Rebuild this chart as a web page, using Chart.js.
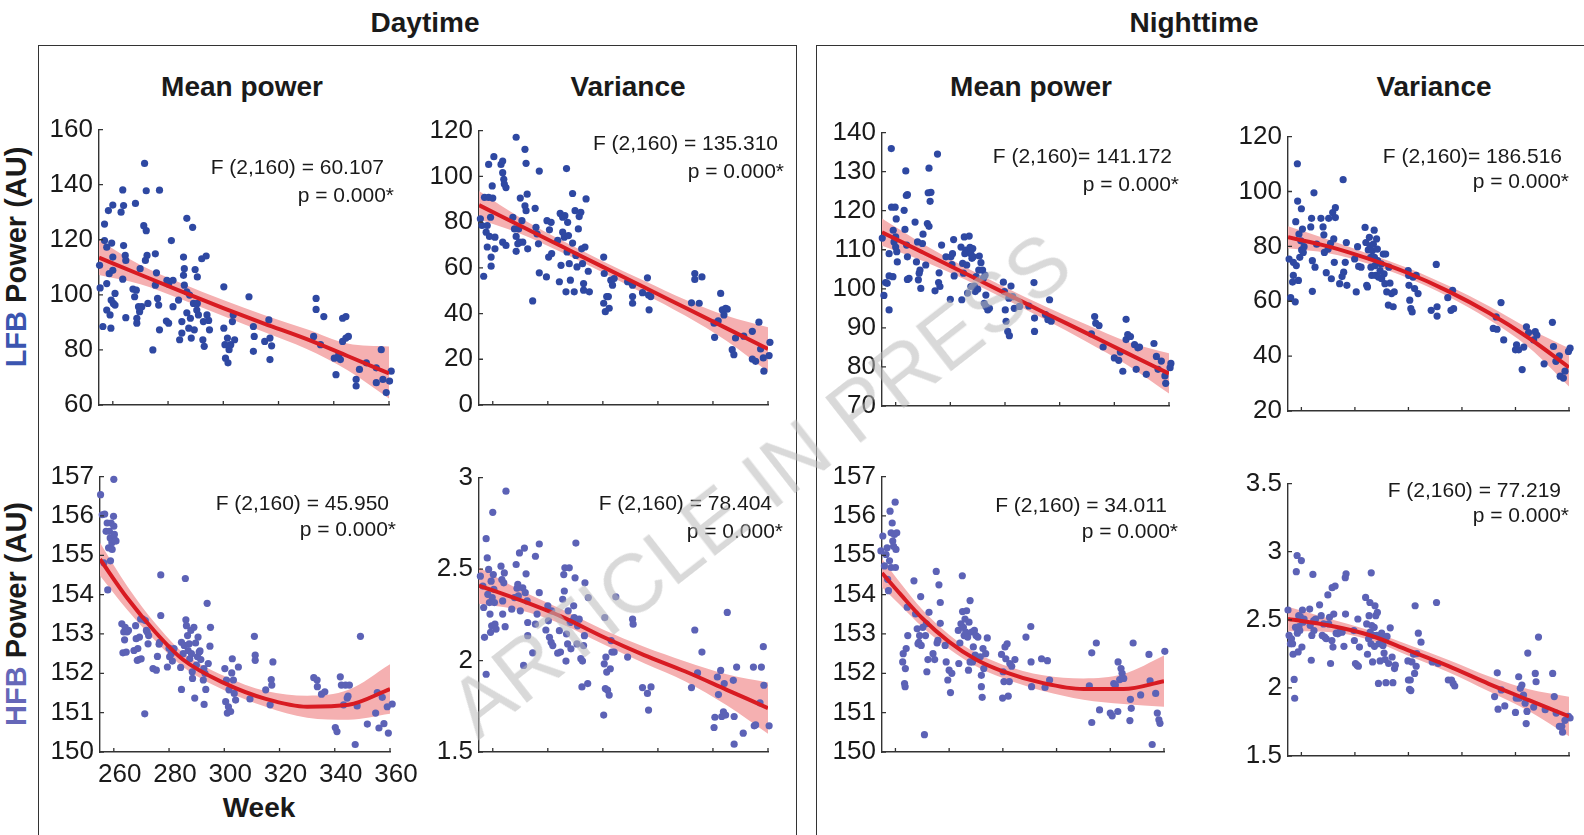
<!DOCTYPE html>
<html>
<head>
<meta charset="utf-8">
<script src="https://cdn.jsdelivr.net/npm/chart.js@4.4.0/dist/chart.umd.min.js"></script>
<style>
  body { margin: 0; background: #fff; width: 1584px; height: 835px; overflow: hidden; position: relative;
         font-family: 'Liberation Sans', Arial, Helvetica, sans-serif; color: #1a1a1a; }
  .frame { position: absolute; border: 1.5px solid #333; }
  .title { position: absolute; font-weight: bold; font-size: 28px; white-space: nowrap; transform: translate(-50%, -50%); }
  .ylab { position: absolute; font-weight: bold; font-size: 29px; white-space: nowrap; transform: translate(-50%, -50%) rotate(-90deg); }
  .stat { position: absolute; font-size: 21px; white-space: nowrap; transform: translateY(-50%); }
  #wm { position: absolute; left: 760px; top: 485px; transform: translate(-50%, -50%) rotate(-38deg);
        font-size: 83px; color: rgba(185, 185, 185, 0.55); white-space: nowrap; pointer-events: none; z-index: 10; }
</style>
</head>
<body>
<div class="frame" style="left:38px;top:45px;width:757px;height:900px"></div>
<div class="frame" style="left:816px;top:45px;width:900px;height:900px"></div>

<div class="title" style="left:425px;top:23px">Daytime</div>
<div class="title" style="left:1194px;top:23px">Nighttime</div>
<div class="title" style="left:242px;top:87px">Mean power</div>
<div class="title" style="left:628px;top:87px">Variance</div>
<div class="title" style="left:1031px;top:87px">Mean power</div>
<div class="title" style="left:1434px;top:87px">Variance</div>
<div class="title" style="left:259px;top:808px">Week</div>

<div class="ylab" style="left:16px;top:257px"><span style="color:#3b55b0">LFB</span> Power (AU)</div>
<div class="ylab" style="left:16px;top:614px"><span style="color:#6567b8">HFB</span> Power (AU)</div>

<div id="wm">ARTICLE IN PRESS</div>

<script>
Chart.defaults.font.family = "'Liberation Sans', Arial, Helvetica, sans-serif";
Chart.defaults.color = '#1a1a1a';

// x axis (weeks)
const xMin = 255;
const xMax = 360;
const xTicks = [260, 280, 300, 320, 340, 360];

// y tick values per panel
const yTicksLfbDayMean = [60, 80, 100, 120, 140, 160];
const yTicksLfbDayVar = [0, 20, 40, 60, 80, 100, 120];
const yTicksLfbNightMean = [70, 80, 90, 100, 110, 120, 130, 140];
const yTicksLfbNightVar = [20, 40, 60, 80, 100, 120];
const yTicksHfbMean = [150, 151, 152, 153, 154, 155, 156, 157];
const yTicksHfbDayVar = [1.5, 2, 2.5, 3];
const yTicksHfbNightVar = [1.5, 2, 2.5, 3, 3.5];

// scatter points: [week, value]
const lfbDayMean = [
  [255.2,110.7],[255.4,102.5],[256.4,88.5],[257,125.7],[257,119.7],[257.8,117.3],[257.8,104.1],[257.8,94.5],[258.4,130.6],[258.7,107.7],
  [259,92.7],[259.3,87.9],[259.6,118.8],[260,132.6],[260,113.7],[260,108.9],[260.2,96.9],[260.8,100.5],[260.8,96.3],[259.4,98.1],
  [263,130],[263.6,138.1],[263.9,132.4],[263.9,117.9],[264.5,114.3],[264.7,112.5],[263.6,105.7],[264.7,91.7],
  [267.3,102.1],[267.9,99.3],[268.5,101.7],[268.2,133.2],[268.7,91.5],[268.7,89.7],[269.3,95.7],[269.7,93.9],[269.9,109.5],[270.5,95.7],
  [271.5,147.7],[271.2,125.1],[272.1,137.8],[272.1,123.3],[272.4,114.3],[271.8,112.5],[272.7,96.9],[274.5,80],[275.4,114.9],[275.8,108],
  [275.4,103.5],[276.2,98.7],[276.6,96.3],[276.9,87.3],[276.9,138],
  [279.4,90.5],[280.2,89.7],[279.6,105.3],[280.2,103.9],[281.2,119.7],[281.8,105.3],[281.8,95.7],
  [283.8,98.1],[284.2,83.7],[285,86.1],[285,90.3],[285.6,113.7],[285.6,107.1],[285.9,103.5],[285.9,109.5],[286.8,127.8],[286.8,101.1],
  [286.8,93.5],[287.5,87.9],[287.8,99.9],[288.1,91.5],[288.4,84.3],[288.9,124.5],[289.2,96.9],[289.5,87.3],[289.8,109.2],[290.4,94.5],
  [290.6,106.5],[290.6,96.9],[291,92.7],[292.2,113.1],[292.6,83.7],[292.8,90.3],[293.1,81.3],[293.8,114.1],[294.1,92.7],[294.7,90.7],[295,87.3],
  [300.2,102.9],[300.2,87.9],[300.6,81.9],[300.8,77],[301.5,84.3],[301.7,75.3],[302.1,80.1],[302.7,81.9],[303.3,90.3],[303.6,92.7],[304.1,83.7],
  [309.3,99.3],[310.9,88.5],[311.2,84.9],[310.9,79.5],[315,83.1],[316.5,90.9],[316.9,84.3],[316.9,76.5],[317.5,81.5],
  [332.7,84.9],[333.6,98.7],[333.6,94.7],[335.2,81.9],[336.4,92.1],[340.2,77],[340.8,71],[341.8,78.2],[342.4,76.5],[343.2,91.5],
  [344.4,92.1],[343.2,83.1],[344.4,84.3],[345.3,84.9],
  [348.1,69.3],[348.1,66.9],[349.3,72.9],[351.8,75.3],[355.4,73.5],[355.4,68.1],[357.2,80.1],[357.8,69.3],[359,64.5],[360.2,68.7],[360.8,72.3]
];

const lfbDayVar = [
  [255.5,81.4],[256.1,78.5],[256.7,56.3],[257,90.8],[257.6,75.6],[258,69.1],[258,78.5],[258.5,90.8],[258.5,105.2],[258.8,73.7],
  [259.2,82.1],[259.4,64.7],[259.4,60.7],[259.8,95.8],[260,90.5],[260.4,108.6],[260.8,68.3],[260.8,73.4],
  [263,105.2],[263.6,106.7],[263.6,101.6],[264,98.7],[264.2,96.6],[264.8,95.1],[263.6,71.2],[264.8,69.8],
  [267.3,82.1],[267.9,77],[268.5,117.1],[268.5,67.2],[268.5,73.7],[269.1,70.5],[269.4,77],[269.7,71.2],[270,90.5],[270.6,80.6],[270.9,71.2],
  [271.7,111.8],[272.1,105.7],[271.7,87.1],[272.1,85],[272.5,92.2],[272.7,68.3],[274.5,45.5],[275.4,86],[275.7,77.7],[276.1,74.8],
  [276.6,70.5],[276.9,102.3],[276.9,57.8],
  [279.5,56],[279.7,80.6],[280.3,64.7],[280.6,76.6],[281.2,79.9],[281.4,66.2],
  [283.6,72],[284.2,53.9],[284.5,83.8],[284.8,61.1],[285.4,82.1],[285.4,75.6],[286,73.4],[286.2,82.8],[286.6,49.5],[286.8,103.4],
  [287,66.9],[287.2,79.9],[287.5,74.1],[287.8,61.8],[288.2,54.6],[289,92.5],[289,70.8],[289.6,49.5],[289.9,85],[290.2,65.4],
  [290.6,60.4],[291.1,77],[291.4,82.4],[292,84.3],[292.3,68.3],[292.6,61.8],[293,53.1],[293,50.2],[293.5,69.1],[293.9,90.1],
  [294.7,58.5],[295.1,49.5],
  [300.3,64.7],[300.5,57.5],[300.3,44.5],[300.9,40.8],[301.4,47.4],[302,47.4],[302.3,42.3],[302.9,54.6],[303.5,52.4],[304.1,55.3],
  [309,53.9],[310.8,52.4],[310.8,47.4],[310.8,44.5],[314.4,49.1],[316.2,55.6],[316.6,48.1],[316.8,41.6],[317.4,47.4],
  [332.2,44.7],[333.4,57.5],[333.4,54.9],[335,44.5],[336,56],[340.4,35.8],[340.6,29.6],[341.9,36.8],[342.8,48.8],[343.4,41.6],
  [344,39.4],[344.6,42.3],[345.2,41.9],[347,24.2],[347.6,22],[348.2,29.3],
  [351.2,30.1],[354.3,32.2],[354.3,20.1],[355.5,19.1],[356.7,36.2],[357.3,24.5],[358.3,20.6],[358.5,14.8],[360.4,21.6],[360.7,27.4]
];

const lfbNightMean = [
  [255.7,98.3],[255.1,113],[256.3,101.6],[256.9,101.4],[257.6,94.6],[257.6,103.3],[257.6,109],[258.4,135.9],[258.5,120.9],[259,103.1],
  [259.1,115],[259.4,112],[259.8,120.9],[260,110.7],[260,113.3],[260.2,117.9],[260.4,109.5],[260.6,106.9],
  [263.1,120.1],[263.4,115.2],[263.7,130.2],[263.9,123.9],[264.3,124.1],[264,111.2],[264.3,108.2],[264.3,102.4],[264.9,102.7],
  [267.1,117.1],[267.6,106.9],[268,112],[268.3,102.3],[268.6,104],[268.9,104.8],[269.2,100.1],[269.8,111.6],[270,114],
  [271,106.1],[271.6,116.7],[271.9,124.6],[272.2,130.9],[272.2,116],[272.6,122.4],[272.9,124.7],
  [274.4,99.5],[275.3,134.5],[275.7,101.6],[275.9,104.1],[276.2,100.6],[276.8,111.2],[278.4,108.2],
  [280,97.3],[280.2,108.2],[280.6,106.2],[280.8,109],[281.2,112.6],[281.4,103.3],
  [283.9,110.7],[284.2,97.2],[284.5,106.5],[284.8,104],[285.1,113.3],[285.3,109],[285.7,109.9],[286,106.1],[286.3,98.9],[286.9,113.5],
  [287.2,110.6],[287.5,109],[287.5,100.6],[287.9,107.8],[288.2,110.3],[288.4,108.2],[288.8,100.7],[289.1,99.3],[289.4,103.1],[290,99.9],
  [290.4,104.8],[290.6,108.4],[291.2,106.7],[291.8,104.8],[292.1,102.7],[292.4,96.3],[292.7,103.5],[293,98.4],[293,95.5],[293.7,94.6],[294.3,95],
  [299.4,101.7],[299.8,99.3],[300.1,94.6],[300.4,91.7],[301,89.1],[301.4,97.6],[301.6,88],[302.2,100.7],[302.8,98],[303.4,95],[305.3,95.5],
  [308.7,95.6],[310.6,101.6],[310.8,92.5],[310.8,89.1],[314.8,93.4],[315.7,92.1],[316.3,97.2],[316.9,91.7],
  [331.6,88.5],[332.8,92.9],[333.2,91.2],[334.4,90.6],[335.9,85.1],[340,82.3],[341.6,81.7],[342.2,83.8],[343.1,78.9],[344.3,92.2],
  [344.3,87],[344.9,88.3],[345.9,87.8],[347.4,85.7],[348,79.4],[348.6,84.9],[349.2,85.1],
  [351.7,78.1],[354.5,86],[355.4,82.7],[356,79.4],[357.2,81.5],[358.5,77.7],[358.8,75.8],[360.4,79.8],[360.7,80.9]
];

const lfbNightVar = [
  [255.4,75.4],[256,61.3],[256.7,67],[257,74.2],[257,69.4],[257.7,59.8],[257.9,89],[258.1,73],[258.5,110.1],[258.6,96.5],
  [258.9,67.6],[259.1,84.5],[259.4,76],[259.8,82],[260,93.7],[260.1,78.7],[260.4,86.3],[260.7,77.8],[261,79.9],
  [263.5,87.1],[263.8,90.2],[264.1,74.8],[264.1,63.6],[264.7,99.5],[265.1,72.4],[265.7,80.8],
  [267.3,90.2],[268.1,87.1],[268.4,84.2],[268.6,77.8],[269.3,70.4],[270,79],[270.2,90.2],[270.9,81.1],[271.2,68.2],[271.7,92.3],
  [272.1,82.7],[272.3,74.2],[272.7,94.1],[272.7,90.5],[274.3,66.4],[275.2,69],[275.6,104.3],[275.8,70.6],[276.4,74.2],[276.8,81.4],[277,65.8],
  [279.9,75.4],[280.5,63.4],[281,79.9],[281.4,72.7],[282.3,72.4],
  [283.8,86.9],[284.1,81.4],[284.4,65.8],[284.7,65.2],[285,78.7],[285.4,83.3],[285.7,80.2],[285.9,76],[286,72.4],[286.3,69.4],
  [286.5,78.4],[286.9,80.8],[287.2,85.9],[287.3,76],[287.5,73],[287.8,69.4],[288.1,82.7],[288.4,79],[288.5,74.8],[288.8,68.8],
  [289.4,71.2],[289.8,73.6],[290,68.2],[290.6,77.2],[290.9,70],[291.2,66.4],[291.5,77.2],[291.9,63.4],[292.5,58.6],[292.7,72.4],
  [293.1,66.6],[293.7,62.8],[294.3,58],[294.7,63.4],
  [299.9,71.2],[300.1,69.4],[300.2,65.8],[300.5,60.4],[300.9,57.3],[301.4,56.1],[301.7,68.8],[302.3,64.6],[302.9,69.4],[303.6,62.8],
  [308.5,56.7],[310.4,73.4],[310.7,58],[310.7,54.6],[314.7,61.3],[315.9,56.7],[316.5,64],[316.9,57.3],
  [331.7,50.1],[332.8,54.3],[333.1,49.8],[334.6,59.5],[335.6,45.9],[340,42.3],[340.4,44.1],[341.2,42.3],[342.5,35.1],[343.1,43.3],
  [344.1,50.7],[344.9,48.6],[346.8,45.9],[347.4,48.9],[348,47.7],
  [350.7,37.2],[353.8,52.3],[354.2,43.5],[355.1,38.1],[356.4,40.1],[356.7,32.7],[357.9,32],[358.5,34.5],[359.8,41.7],[360.4,42.9]
];

const hfbDayMean = [
  [255.2,156.54],[255.8,156.03],[256.4,154.81],[256.7,156.05],[257.2,155.61],[257.6,155.82],[257.8,154.12],[258.1,155.19],[258.4,155.61],[258.7,155.44],
  [258.8,154.86],[259,155.82],[259.3,155.32],[259.4,155.15],[259.6,155.4],[259.9,155.99],[260,156.93],[260,155.74],[260.2,155.53],[260.5,155.38],[260.8,155.36],
  [262.9,153.26],[263.3,152.52],[263.6,153.05],[263.9,152.85],[264.1,153.17],[264.5,152.54],[264.8,153.05],[265.3,153.09],
  [267.3,152.58],[267.9,153.21],[268.1,152.88],[268.5,152.33],[268.7,152.63],[269.1,152.35],[269.3,152.92],[269.7,153.38],[269.9,152.37],
  [270.5,153.38],[271.2,150.97],[271.4,153.34],[271.8,153.09],[272.1,153.05],[272.4,152.75],[272.6,152.96],
  [274.2,152.12],[275.4,152.08],[275.8,152.43],[276.4,152.74],[276.6,152.79],[277,154.5],[277,153.47],
  [279.4,152.16],[280,152.64],[280.2,152.42],[280.8,152.5],[281.2,152.31],[281.8,152.63],
  [284.2,152.15],[284.5,151.59],[284.5,152.79],[285.1,152.5],[285.5,152.71],[285.9,154.41],[286.1,153.36],[286.3,153.21],[286.7,152.96],
  [286.9,152.58],[287.3,152.75],[287.5,152.37],[287.9,153.09],[288.1,152.5],[288.4,152.04],[288.5,151.87],[289,153.17],[289.3,151.37],
  [289.6,152.77],[289.9,152.21],[290.3,152.42],[290.5,152.92],[290.9,152.54],[291.2,152.57],[291.5,152.35],[292.4,151.83],[292.6,152.12],
  [292.7,151.21],[293,152],[293.3,151.59],[293.8,153.78],[294.2,152.25],[294.8,152.69],[295,153.17],
  [300.2,152.12],[300.5,151.28],[300.8,151.83],[301.1,150.99],[301.5,151.15],[301.7,151.58],[302.3,151.03],[302.7,152.01],[302.9,152.37],
  [303.3,151.83],[303.6,151.49],[304.1,151.32],[305.1,152.16],
  [309.3,151.35],[310.9,152.94],[311.2,152.46],[311.2,152.33],[315,151.58],[316.6,151.2],[317,151.84],[317.2,151.7],[317.6,152.29],
  [332.4,151.89],[333.6,151.83],[333.7,151.66],[335.2,151.47],[336.4,151.53],[340.2,150.62],[340.8,150.52],[342,151.91],[342.4,151.7],
  [343.2,151.2],[343.9,151.7],[344.5,151.37],[344.8,151.42],[345.3,151.7],[347.4,150.19],[348.1,151.17],[349.3,152.94],
  [351.8,150.71],[354.8,150.99],[355.4,151.51],[356,150.61],[357.2,151.39],[357.8,150.72],[359,151.15],[359.4,150.48],[360.8,151.22]
];

const hfbDayVar = [
  [255.5,2.461],[256.4,2.407],[256.7,2.29],[257,2.127],[257.6,2.666],[257.6,1.925],[258,2.561],[258.2,2.362],[258.5,2.498],[258.8,2.317],
  [259,2.254],[259.2,2.154],[259.4,2.434],[259.6,2.19],[259.8,2.344],[260,2.81],[260.2,2.47],[260.4,2.389],[260.6,2.317],[260.8,2.199],[261.2,2.172],
  [263,2.516],[263.3,2.443],[263.6,2.326],[263.6,2.254],[264,2.425],[264.2,2.479],[264.5,2.185],[264.8,2.926],
  [266.9,2.281],[267.9,2.344],[268.5,2.525],[268.8,2.395],[269.1,2.416],[269.3,2.353],[269.7,2.588],[270,2.272],[270.9,2.398],[271.2,1.973],
  [271.5,2.615],[271.8,2.371],[272.1,2.474],[272.5,2.326],[272.7,2.208],[272.7,2.136],[274.5,2.042],[275.5,2.57],[275.5,2.199],[276.1,2.254],
  [276.9,2.371],[276.9,2.637],
  [279.3,2.167],[280,2.299],[280.2,2.217],[280.6,2.127],[281.2,2.1],[281.4,2.272],[281.8,2.082],
  [283.6,2.04],[284.2,2.163],[284.6,2.046],[285.4,2.335],[285.8,2.47],[286,2.38],[286.2,2.507],[286.6,1.997],[286.8,2.145],[287.2,2.091],
  [287.4,2.272],[287.8,2.507],[288.1,2.208],[288.4,2.064],[289,2.217],[289.4,2.299],[289.6,2.235],[289.9,2.452],[290.2,2.642],[290.6,2.091],
  [290.8,2.19],[291.4,2.226],[292,2.01],[292.4,1.856],[292.6,1.997],[293,2.082],[293.3,2.136],[293.5,2.425],[294.5,1.874],[294.7,2.344],
  [300.3,1.702],[300.5,1.982],[300.7,2.235],[300.9,1.847],[301.1,2.019],[301.4,1.937],[301.7,1.838],[302.3,1.811],[302.7,1.955],[303,2.109],
  [303.3,2.046],[304.1,2.046],[304.7,2.348],
  [309,2.019],[310.8,2.226],[311,2.199],[314.4,1.852],[316.2,1.82],[316.6,1.729],[317.5,1.856],
  [332.2,1.852],[333.4,2.167],[334.4,1.932],[336,2.046],[340.4,1.634],[340.7,1.69],[341.6,1.91],[342,1.814],[342.8,1.946],[343.2,1.694],
  [343.8,1.72],[344.1,1.874],[344.6,1.702],[345.2,2.263],[347.4,1.892],[347.7,1.694],[347.7,1.543],[348.6,1.964],
  [351,1.603],[354.7,1.964],[355,1.643],[355.5,1.648],[357.1,1.769],[357.6,1.964],[358.3,2.076],[358.5,1.865],[360.4,1.643]
];

const hfbNightMean = [
  [254.6,155.11],[255.3,155.49],[255.9,154.73],[256.5,155.02],[256.9,155.19],[257.1,154.39],[257.4,154.1],[257.8,154.86],[258,156.12],[258.4,154.69],
  [258.4,155.57],[258.8,155.82],[259,155.36],[259.3,155.23],[259.6,155.53],[259.9,156.35],[260,154.69],[260.2,155.15],[260.5,155.57],
  [262.7,152.29],[262.9,152.5],[263.4,151.74],[263.6,151.66],[263.7,152.12],[264,152.63],[264.4,153.68],[264.6,152.96],
  [266.9,154.35],[267.5,153.51],[268.1,153.13],[268.4,152.75],[268.7,152.79],[269,152.96],[269.4,153.95],[269.6,152.71],[270.2,153.17],
  [270.8,150.44],[271.2,152.96],[271.5,153.26],[271.7,152.04],[272.1,152.35],[272.5,153.55],
  [274,152.5],[274.6,152.35],[275.2,154.59],[275.5,152.77],[275.8,152.84],[276.2,154.25],[276.7,153.8],[276.7,153.27],
  [278.5,152.71],[278.9,152.29],[279.5,151.83],[280,152.08],[280.5,151.51],[281,152],
  [283.4,153.09],[283.6,152.25],[284,152.77],[284.4,153.26],[284.9,154.48],[285,153.57],[285.3,153.17],[285.6,152.96],[285.9,153.38],
  [286.2,153.05],[286.5,153.59],[286.9,152.92],[287.2,152.08],[287.4,153.3],[287.8,153.85],[287.8,152.29],[288.4,153.05],[288.7,152.29],
  [289,152.67],[289.4,153.09],[289.7,152.46],[290,152.96],[290.7,152.92],[291.6,152.42],[292,151.95],[292,151.66],[292.3,151.39],
  [292.6,152.63],[292.9,152.12],[293.6,152.5],[294.2,152.9],
  [299.5,152.48],[299.9,151.37],[300.1,152.04],[300.4,151.79],[300.8,152.67],[301.1,152.37],[301.6,152.75],[302,151.42],[302.4,151.79],
  [302.6,152.25],[303.3,152.18],[304.5,152.35],
  [308.6,152.92],[310.4,153.19],[310.5,152.29],[310.7,151.66],[314.4,152.37],[315.7,151.64],[316.6,152.32],[317.4,151.83],
  [332.2,151.68],[333.1,152.52],[333.1,150.75],[334.8,152.77],[336,151.07],[340,150.99],[340.7,150.92],[341.3,151.74],[341.9,151.7],
  [342.8,151.03],[342.9,152.29],[343.5,151.84],[344,152.12],[344.4,152],[345,151.87],[347.3,150.8],[347.5,151.34],[347.8,151.11],[348.5,152.77],
  [351.3,151.45],[354.4,152.48],[354.8,151.81],[355.6,150.19],[356.9,151.49],[357.5,150.99],[358.1,150.82],[358.5,150.73],[360.3,152.56],[360.6,152.32]
];

const hfbNightVar = [
  [255,2.572],[255.4,2.385],[255.9,2.324],[256.3,2.361],[256.7,2.324],[256.9,2.247],[257.3,2.062],[257.5,1.924],[257.8,2.445],[258.1,2.853],
  [258.4,2.972],[258.5,2.402],[258.8,2.264],[259,2.53],[259.1,2.45],[259.4,2.421],[259.6,2.523],[260,2.935],[260.2,2.3],[260.4,2.572],
  [260.6,2.482],[261,2.506],
  [263.1,2.579],[263.3,2.458],[263.7,2.203],[263.9,2.385],[264.3,2.833],[264.6,2.494],[264.7,2.421],[265.3,2.506],
  [266.8,2.61],[267.4,2.53],[267.8,2.385],[268.3,2.47],[268.7,2.373],[269.3,2.361],[269.9,2.683],[270.2,2.47],[270.5,2.518],[270.9,2.179],
  [271.4,2.348],[271.5,2.736],[271.8,2.3],[272.1,2.542],[272.6,2.748],[273,2.402],[273.6,2.397],[274.3,2.409],[275.2,2.409],[275.9,2.305],
  [276.4,2.809],[276.5,2.542],[276.7,2.838],
  [279.6,2.421],[279.8,2.348],[280.2,2.179],[280.8,2.167],[281.1,2.506],[281.3,2.159],[281.7,2.3],
  [284,2.664],[284.4,2.47],[284.7,2.247],[285.1,2.361],[285.3,2.53],[285.6,2.627],[285.7,2.409],[286,2.324],[286.1,2.845],[286.3,2.458],
  [286.6,2.191],[286.9,2.385],[287.2,2.445],[287.3,2.305],[287.5,2.603],[287.8,2.53],[288.2,2.385],[288.4,2.554],[288.8,2.033],[289,2.324],
  [289.4,2.198],[289.8,2.368],[290,2.402],[290.5,2.312],[290.9,2.256],[291.3,2.208],[291.6,2.038],[292,2.378],[292.6,2.179],[293.2,2.441],
  [293.9,2.227],[294.2,2.038],[294.8,2.142],[295.1,2.167],
  [299.8,2.198],[300,2.058],[300.4,1.99],[300.7,2.058],[300.9,1.98],[301.3,2.191],[301.9,2.247],[302.3,2.106],[302.5,2.603],[302.9,2.159],
  [303.1,2.252],[303.7,2.402],[304.7,2.336],
  [308.9,2.191],[310.5,2.627],[311.1,2.179],[314.9,2.058],[316.1,2.058],[316.7,2.033],[317.3,2.014],
  [332.2,1.936],[333.2,2.111],[333.5,1.844],[334.7,1.985],[336,1.868],[340,1.82],[340.3,1.924],[341.2,2.082],[341.4,1.924],[341.8,1.997],
  [342.4,2.021],[343,1.948],[343.6,1.888],[344,1.738],[344.3,1.827],[344.6,2.256],[346.8,1.859],[347.4,2.106],[347.7,2.045],[348.6,2.373],
  [351.1,1.84],[353.9,2.106],[354.5,1.936],[355.2,1.815],[356.4,1.718],[357.3,1.718],[357.6,1.675],[358.5,1.762],[359.8,1.791],[360.4,1.779]
];

// fitted curve with confidence band: [week, lower, fit, upper]
const lfbDayMeanFit = [[255,107.2,113.5,119.8],[270,103.8,107.3,110.8],[285,98.3,101.2,104.1],[300,92.3,95.2,98.1],
  [315,86.4,89.5,92.6],[330,80.4,84.0,87.6],[345,72.6,77.8,82.3],[360,62.4,71.5,81.2]];
const lfbDayVarFit = [[255,81.2,87.4,93.6],[270,74.9,78.4,81.9],[285,66.8,69.4,72.0],[300,57.9,60.4,62.9],
  [315,48.7,51.5,54.3],[330,39.0,42.5,46.0],[345,28.0,33.5,39.0],[360,14.5,24.5,34.0]];
const lfbNightMeanFit = [[255,111.0,114.5,118.0],[270,107.1,109.3,111.5],[285,102.5,104.1,105.7],[300,97.4,98.9,100.4],
  [315,92.0,93.7,95.4],[330,86.4,88.6,90.8],[345,80.4,83.4,86.4],[360,73.2,78.3,83.5]];
const lfbNightVarFit = [[255,79.3,83.3,87.3],[270,77.5,80.0,82.5],[285,73.7,75.5,77.3],[300,68.4,70.2,72.0],
  [315,61.6,63.6,65.6],[330,53.3,55.8,58.3],[345,43.1,46.6,50.1],[360,28.9,35.9,42.9]];
const hfbDayMeanFit = [[255,154.48,154.9,155.32],[265,153.6,153.9,154.2],[275,152.83,153.05,153.27],[285,152.17,152.35,152.53],
  [300,151.57,151.75,151.93],[315,151.15,151.35,151.55],[330,150.87,151.15,151.43],[345,150.82,151.2,151.58],[360,150.97,151.6,152.23]];
const hfbDayVarFit = [[255,2.31,2.41,2.51],[270,2.275,2.33,2.385],[285,2.2,2.24,2.28],[300,2.09,2.13,2.17],
  [315,1.985,2.03,2.075],[330,1.885,1.94,1.995],[345,1.755,1.84,1.925],[360,1.6,1.74,1.88]];
const hfbNightMeanFit = [[255,154.19,154.55,154.91],[262,153.72,154.0,154.28],[270,153.18,153.4,153.62],[280,152.62,152.8,152.98],
  [290,152.18,152.35,152.52],[300,151.88,152.05,152.22],[315,151.55,151.75,151.95],[330,151.33,151.6,151.87],
  [345,151.22,151.6,151.98],[360,151.15,151.8,152.45]];
const hfbNightVarFit = [[255,2.416,2.506,2.596],[270,2.41,2.46,2.51],[285,2.355,2.39,2.425],[300,2.236,2.276,2.316],
  [315,2.115,2.16,2.205],[330,1.975,2.03,2.085],[345,1.83,1.91,1.99],[360,1.645,1.79,1.935]];

// stat labels
const fStats = ['F (2,160) = 60.107', 'F  (2,160) = 135.310', 'F (2,160)= 141.172', 'F (2,160)= 186.516',
                'F (2,160) = 45.950', 'F (2,160) = 78.404', 'F (2,160) = 34.011', 'F (2,160) = 77.219'];
const pStat = 'p = 0.000*';

const topDot = '#2e48a2';
const bottomDot = '#5c62b6';

// layout: chart area [left, top, right, bottom], stat text anchors [fRight, fY, pRight, pY]
const panels = [
  { pts: lfbDayMean,    fit: lfbDayMeanFit,    yt: yTicksLfbDayMean,   box: [99, 128, 389, 405],   dot: topDot,    st: [384, 167, 394, 195] },
  { pts: lfbDayVar,     fit: lfbDayVarFit,     yt: yTicksLfbDayVar,    box: [479, 129, 768, 405],  dot: topDot,    st: [778, 143, 784, 171] },
  { pts: lfbNightMean,  fit: lfbNightMeanFit,  yt: yTicksLfbNightMean, box: [882, 131, 1169, 406], dot: topDot,    st: [1172, 156, 1179, 184] },
  { pts: lfbNightVar,   fit: lfbNightVarFit,   yt: yTicksLfbNightVar,  box: [1288, 135, 1569, 411], dot: topDot,   st: [1562, 156, 1569, 181] },
  { pts: hfbDayMean,    fit: hfbDayMeanFit,    yt: yTicksHfbMean,      box: [100, 475, 390, 752],  dot: bottomDot, st: [389, 503, 396, 529], xLabels: true },
  { pts: hfbDayVar,     fit: hfbDayVarFit,     yt: yTicksHfbDayVar,    box: [479, 476, 768, 752],  dot: bottomDot, st: [772, 503, 783, 531] },
  { pts: hfbNightMean,  fit: hfbNightMeanFit,  yt: yTicksHfbMean,      box: [882, 475, 1164, 752], dot: bottomDot, st: [1167, 505, 1178, 531] },
  { pts: hfbNightVar,   fit: hfbNightVarFit,   yt: yTicksHfbNightVar,  box: [1288, 482, 1569, 756], dot: bottomDot, st: [1561, 490, 1569, 515] }
];

// MATLAB style ticks pointing into the plot
const inwardTicks = {
  id: 'inwardTicks',
  afterDatasetsDraw(chart) {
    const { ctx, chartArea: a, scales: { x, y } } = chart;
    ctx.save();
    ctx.strokeStyle = '#333';
    ctx.lineWidth = 1.3;
    ctx.beginPath();
    x.ticks.forEach(t => {
      const px = x.getPixelForValue(t.value);
      ctx.moveTo(px, a.bottom);
      ctx.lineTo(px, a.bottom - 4);
    });
    y.ticks.forEach(t => {
      const py = y.getPixelForValue(t.value);
      ctx.moveTo(a.left, py);
      ctx.lineTo(a.left + 4, py);
    });
    ctx.stroke();
    ctx.restore();
  }
};

panels.forEach((p, i) => {
  const [L, T, R, B] = p.box;
  const padL = 72, padT = 20, padR = 30;
  const xh = p.xLabels ? 45 : 24;   // leaves room for half of the lowest y label
  const w = R - L + padL + padR;
  const h = B - T + padT + xh;

  const cv = document.createElement('canvas');
  cv.width = w;
  cv.height = h;
  cv.style.cssText = `position:absolute;left:${L - padL}px;top:${T - padT}px;width:${w}px;height:${h}px`;
  document.body.appendChild(cv);

  const f = document.createElement('div');
  f.className = 'stat';
  f.textContent = fStats[i];
  f.style.right = (1584 - p.st[0]) + 'px';
  f.style.top = p.st[1] + 'px';
  document.body.appendChild(f);
  const q = document.createElement('div');
  q.className = 'stat';
  q.textContent = pStat;
  q.style.right = (1584 - p.st[2]) + 'px';
  q.style.top = p.st[3] + 'px';
  document.body.appendChild(q);

  new Chart(cv, {
    type: 'line',
    data: {
      datasets: [
        {
          data: p.fit.map(r => ({ x: r[0], y: r[1] })),
          borderWidth: 0,
          pointRadius: 0,
          fill: false,
          cubicInterpolationMode: 'monotone',
          order: 4,
        },
        {
          data: p.fit.map(r => ({ x: r[0], y: r[3] })),
          borderWidth: 0,
          pointRadius: 0,
          fill: '-1',
          backgroundColor: '#f5b0b1',
          cubicInterpolationMode: 'monotone',
          order: 3,
        },
        {
          data: p.pts.map(r => ({ x: r[0], y: r[1] })),
          showLine: false,
          pointRadius: 3.6,
          pointBorderWidth: 0,
          pointBackgroundColor: p.dot,
          clip: false,
          order: 2,
        },
        {
          data: p.fit.map(r => ({ x: r[0], y: r[2] })),
          borderColor: '#d81b22',
          borderWidth: 4,
          pointRadius: 0,
          fill: false,
          cubicInterpolationMode: 'monotone',
          order: 1,
        },
      ]
    },
    options: {
      responsive: false,
      animation: false,
      events: [],
      layout: { padding: { top: padT, right: padR, left: 0, bottom: 0 } },
      scales: {
        x: {
          type: 'linear',
          min: xMin,
          max: xMax,
          afterBuildTicks: s => { s.ticks = xTicks.map(v => ({ value: v })); },
          afterFit: s => { s.height = xh; },
          grid: { display: false, drawTicks: false },
          border: { color: '#333', width: 1.4 },
          ticks: {
            display: !!p.xLabels,
            font: { size: 26 },
            color: '#1a1a1a',
            padding: 7,
            labelOffset: 6,
            maxRotation: 0,
            autoSkip: false,
          },
        },
        y: {
          type: 'linear',
          min: p.yt[0],
          max: p.yt[p.yt.length - 1],
          afterBuildTicks: s => { s.ticks = p.yt.map(v => ({ value: v })); },
          afterFit: s => { s.width = padL; },
          grid: { display: false, drawTicks: false },
          border: { color: '#333', width: 1.4 },
          ticks: {
            font: { size: 26 },
            color: '#1a1a1a',
            padding: 6,
            autoSkip: false,
            callback: v => String(v),
          },
        }
      },
      plugins: {
        legend: { display: false },
        tooltip: { enabled: false },
      }
    },
    plugins: [inwardTicks],
  });
});
</script>
</body>
</html>
